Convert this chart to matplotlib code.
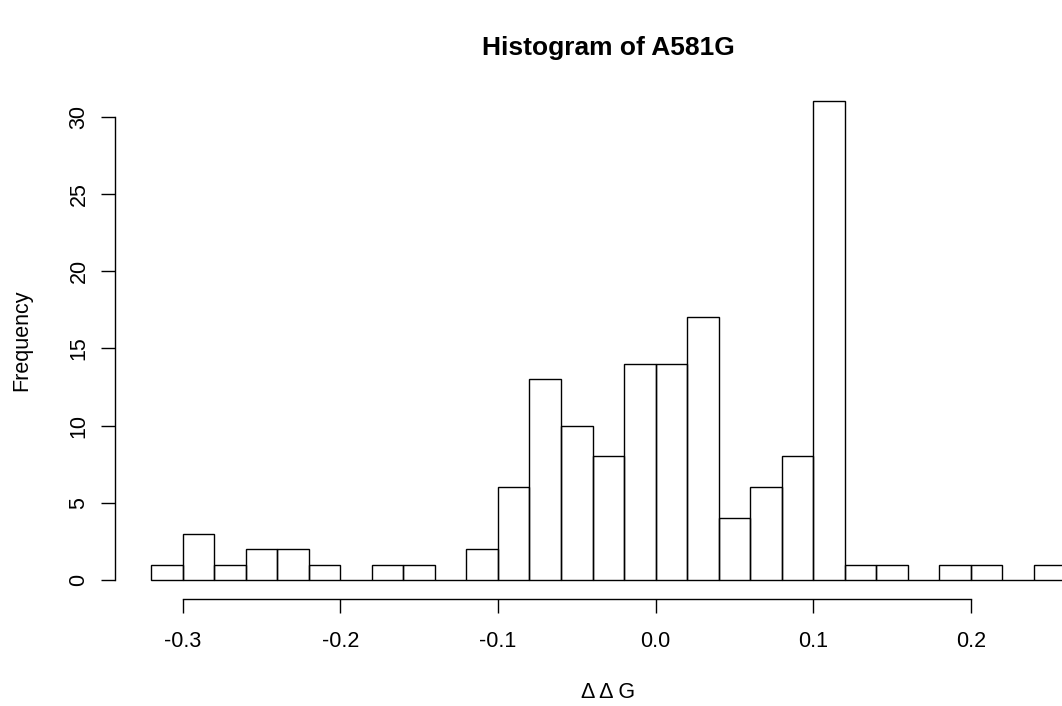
import numpy as np
import matplotlib
matplotlib.use("Agg")
import matplotlib.pyplot as plt

# Histogram data (bin width 0.02)
bin_edges = [-0.32, -0.30, -0.28, -0.26, -0.24, -0.22, -0.20, -0.18, -0.16, -0.14,
             -0.12, -0.10, -0.08, -0.06, -0.04, -0.02, 0.00, 0.02, 0.04, 0.06,
             0.08, 0.10, 0.12, 0.14, 0.16, 0.18, 0.20, 0.22, 0.24, 0.26]
counts = [1, 3, 1, 2, 2, 1, 0, 1, 1, 0,
          2, 6, 13, 10, 8, 14, 14, 17, 4, 6,
          8, 31, 1, 1, 0, 1, 1, 0, 1]
x_ticks = [-0.3, -0.2, -0.1, 0.0, 0.1, 0.2]
x_tick_labels = ["-0.3", "-0.2", "-0.1", "0.0", "0.1", "0.2"]
y_ticks = [0, 5, 10, 15, 20, 25, 30]

plt.rcParams['font.family'] = ['Liberation Sans', 'DejaVu Sans']

W, H = 1062, 706
fig = plt.figure(figsize=(W / 100, H / 100), dpi=100)
# plot region in pixels: x 114.6..1102, y 82.1..599.1
left, right = 114.6 / W, 1102 / W
bottom, top = (H - 599.1) / H, (H - 82.1) / H
ax = fig.add_axes([left, bottom, right - left, top - bottom])

widths = np.diff(bin_edges)
ax.bar(bin_edges[:-1], counts, width=widths, align='edge', fill=False,
       edgecolor='black', linewidth=1.0)

rng = bin_edges[-1] - bin_edges[0]
ax.set_xlim(bin_edges[0] - 0.04 * rng, bin_edges[-1] + 0.04 * rng)
ymax = max(counts)
ax.set_ylim(-0.04 * ymax, ymax * 1.04)

for s in ['top', 'right']:
    ax.spines[s].set_visible(False)
ax.spines['bottom'].set_bounds(x_ticks[0], x_ticks[-1])
ax.spines['left'].set_bounds(y_ticks[0], y_ticks[-1])
ax.spines['bottom'].set_linewidth(1.0)
ax.spines['left'].set_linewidth(1.0)

ax.set_xticks(x_ticks)
ax.set_xticklabels(x_tick_labels)
ax.set_yticks(y_ticks)
ax.set_yticklabels([str(v) for v in y_ticks], rotation=90, va='center')
ax.tick_params(axis='both', direction='out', length=10, width=1.0,
               labelsize=15.5, colors='black')
ax.tick_params(axis='x', pad=13)
ax.tick_params(axis='y', pad=8)

cx = (114.6 + 1102) / 2 / W
fig.text(cx, 1 - 48 / H, "Histogram of A581G", ha='center', va='center',
         fontsize=19, fontweight='bold')
fig.text(cx, 1 - 692 / H, "\u0394 \u0394 G", ha='center', va='center', fontsize=15.5)
fig.text(22 / W, 1 - 340.5 / H, "Frequency", ha='center', va='center',
         rotation=90, fontsize=15.5)

fig.savefig("out.png", dpi=100)
